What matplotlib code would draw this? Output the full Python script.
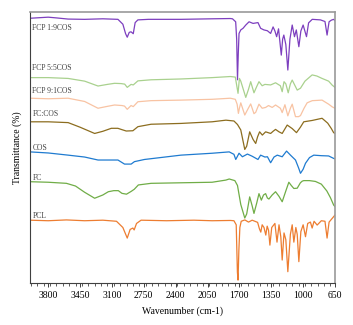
import numpy as np
import matplotlib.pyplot as plt
from matplotlib.ticker import MultipleLocator

plt.rcParams['font.family'] = ['Liberation Serif', 'DejaVu Serif']

# FTIR spectra (wavenumber in cm-1, transmittance as stacked in the figure)
pcl_wn = [4000, 3800, 3600, 3400, 3200, 3050, 2980, 2932, 2900, 2870, 2856, 2830, 2780, 2500, 2200, 2000,
          1800, 1760, 1735, 1722, 1715, 1706, 1695, 1680, 1640, 1600, 1560, 1500, 1480, 1465, 1450, 1430,
          1410, 1395, 1380, 1365, 1345, 1310, 1287, 1265, 1245, 1230, 1210, 1190, 1168, 1140, 1120, 1102,
          1080, 1065, 1047, 1025, 1000, 974, 950, 920, 901, 880, 846, 800, 760, 737, 715, 690, 665, 650]
pcl_t = [23.2, 23.0, 23.3, 23.0, 23.2, 22.8, 20.5, 16.6, 19.8, 20.3, 19.6, 22.0, 23.2, 23.0, 23.2, 23.0,
         23.1, 23.0, 21.5, 4.0, 1.1, 12.0, 20.5, 22.8, 23.3, 22.5, 23.2, 22.4, 20.0, 18.8, 21.5, 20.5,
         17.7, 21.0, 19.5, 14.0, 20.5, 22.0, 15.1, 21.5, 17.0, 8.5, 18.5, 16.0, 4.2, 18.0, 21.5, 15.1,
         20.5, 18.0, 7.9, 19.0, 21.5, 17.1, 22.0, 22.5, 20.3, 22.8, 21.4, 23.0, 22.8, 16.6, 22.5, 23.5, 24.5, 25.1]

fc_wn = [4000, 3800, 3600, 3500, 3400, 3290, 3200, 3140, 3080, 3030, 2990, 2940, 2890, 2855, 2810, 2670,
         2340, 2000, 1848, 1812, 1750, 1721, 1685, 1641, 1620, 1587, 1560, 1540, 1510, 1485, 1459, 1435,
         1412, 1393, 1376, 1340, 1303, 1265, 1230, 1190, 1157, 1130, 1102, 1065, 1030, 1010, 993, 930,
         865, 800, 740, 700, 665, 650]
fc_t = [37.4, 37.2, 36.8, 35.8, 33.5, 31.3, 32.5, 33.7, 34.1, 34.1, 33.1, 32.8, 33.8, 34.6, 36.2, 36.8,
        37.0, 37.2, 38.0, 38.4, 37.8, 36.0, 29.0, 24.0, 25.5, 31.8, 28.5, 25.7, 29.5, 33.0, 30.6, 32.5,
        33.0, 31.4, 31.0, 32.5, 33.7, 32.0, 30.0, 34.0, 37.2, 36.0, 34.9, 35.0, 37.0, 37.6, 37.8, 37.8,
        37.5, 36.5, 34.0, 31.5, 28.8, 28.2]

cos_wn = [4000, 3800, 3581, 3400, 3253, 3034, 2962, 2889, 2853, 2743, 2342, 2000, 1812, 1760, 1740, 1704,
          1667, 1612, 1560, 1496, 1467, 1420, 1392, 1357, 1320, 1284, 1230, 1182, 1139, 1084, 1050, 1029,
          1000, 974, 930, 883, 800, 720, 665, 650]
cos_t = [48.4, 48.0, 47.2, 46.5, 45.4, 45.4, 43.9, 43.9, 44.8, 45.6, 47.2, 47.9, 48.4, 47.5, 45.6, 47.9,
         46.6, 47.6, 46.8, 45.6, 47.2, 46.5, 46.6, 44.4, 46.5, 47.2, 46.6, 48.7, 47.2, 45.4, 42.5, 40.5,
         42.0, 44.2, 46.3, 47.2, 47.0, 46.9, 46.0, 45.8]

fccos_wn = [4000, 3800, 3581, 3450, 3290, 3200, 3107, 3035, 2990, 2943, 2870, 2815, 2670, 2342, 2000, 1848,
            1760, 1721, 1685, 1641, 1620, 1587, 1550, 1521, 1500, 1478, 1448, 1412, 1357, 1330, 1303, 1265,
            1230, 1175, 1120, 1073, 1030, 993, 900, 792, 730, 690, 665, 650]
fccos_t = [59.5, 59.5, 59.2, 57.5, 55.2, 56.0, 57.1, 57.1, 56.6, 56.1, 56.2, 57.7, 58.6, 58.9, 59.5, 60.1,
           59.8, 58.5, 56.5, 49.3, 50.5, 55.8, 53.0, 51.5, 54.0, 55.8, 54.6, 55.8, 55.2, 56.0, 56.7, 55.8,
           55.2, 58.3, 57.0, 55.5, 57.5, 59.5, 60.0, 60.8, 59.0, 57.0, 55.5, 55.2]

fcp91_wn = [4000, 3800, 3581, 3400, 3253, 3150, 3071, 2990, 2962, 2932, 2890, 2866, 2815, 2670, 2342, 2000,
            1800, 1745, 1725, 1711, 1700, 1685, 1641, 1610, 1576, 1540, 1521, 1485, 1450, 1412, 1380, 1340,
            1303, 1250, 1230, 1200, 1168, 1140, 1120, 1084, 1050, 1029, 990, 956, 900, 792, 720, 680, 650]
fcp91_t = [68.2, 68.0, 68.2, 67.0, 64.5, 65.2, 65.7, 65.5, 65.3, 64.1, 65.5, 65.1, 66.9, 67.3, 67.5, 67.8,
           68.2, 67.8, 66.0, 62.6, 64.5, 66.5, 62.0, 64.0, 66.1, 62.5, 63.0, 66.0, 64.5, 64.8, 65.5, 64.8,
           65.7, 64.5, 62.9, 65.8, 61.7, 64.5, 66.0, 61.4, 61.4, 61.8, 64.5, 66.5, 67.3, 67.5, 66.0, 65.0, 64.5]

fcp55_wn = [4000, 3800, 3581, 3400, 3253, 3150, 3071, 3000, 2960, 2932, 2890, 2866, 2815, 2670, 2342, 2000,
            1800, 1745, 1715, 1700, 1685, 1630, 1600, 1576, 1540, 1510, 1485, 1450, 1420, 1357, 1303, 1250,
            1230, 1210, 1190, 1164, 1140, 1120, 1065, 1029, 980, 901, 850, 792, 720, 680, 650]
fcp55_t = [75.8, 75.8, 75.5, 74.5, 72.7, 73.3, 73.7, 73.6, 73.4, 72.2, 73.3, 73.1, 74.6, 75.0, 75.3, 75.8,
           76.2, 76.0, 70.0, 75.5, 74.5, 68.5, 71.5, 74.3, 70.2, 72.5, 74.3, 72.8, 73.3, 73.1, 73.9, 72.8,
           70.6, 74.3, 73.5, 70.2, 73.5, 74.9, 71.2, 71.9, 74.5, 76.8, 76.4, 75.5, 74.5, 73.0, 72.2]

fcp19_wn = [4000, 3900, 3800, 3700, 3581, 3400, 3200, 3034, 2980, 2950, 2932, 2910, 2890, 2866, 2845, 2815,
            2700, 2342, 2000, 1800, 1776, 1741, 1730, 1721, 1712, 1704, 1685, 1660, 1630, 1594, 1550, 1496,
            1467, 1431, 1393, 1357, 1330, 1310, 1291, 1270, 1240, 1225, 1212, 1190, 1168, 1145, 1120, 1095,
            1075, 1047, 1025, 1000, 963, 940, 900, 810, 760, 737, 715, 690, 665, 650]
fcp19_t = [97.7, 97.9, 98.1, 97.8, 97.4, 97.3, 97.5, 97.3, 95.5, 92.0, 90.7, 92.5, 92.7, 92.0, 96.1, 97.1,
           97.3, 97.3, 97.5, 97.6, 97.5, 96.4, 90.0, 75.0, 85.0, 92.1, 93.4, 94.0, 95.2, 96.4, 95.8, 96.1,
           94.0, 93.4, 93.1, 92.1, 94.5, 93.0, 90.9, 93.8, 84.1, 90.0, 91.5, 88.0, 78.6, 90.0, 95.2, 90.9,
           93.4, 87.2, 93.0, 95.2, 90.9, 96.0, 97.3, 97.1, 96.5, 91.5, 96.4, 97.0, 97.3, 96.8]

labels = ['FCP 1:9COS', 'FCP 5:5COS', 'FCP 9:1COS', 'FC:COS', 'COS', 'FC', 'PCL']
label_y = [94.1, 79.3, 70.8, 62.4, 49.8, 38.7, 24.7]
colors = ['#7d3fbf', '#a9d18e', '#f8c3a3', '#8c6d1f', '#1f7bd0', '#70ad47', '#ed7d31']
spectra = [(fcp19_wn, fcp19_t), (fcp55_wn, fcp55_t), (fcp91_wn, fcp91_t), (fccos_wn, fccos_t),
           (cos_wn, cos_t), (fc_wn, fc_t), (pcl_wn, pcl_t)]

fig = plt.figure(figsize=(3.53, 3.25), dpi=100)
ax = fig.add_axes([0.085, 0.129, 0.864, 0.834])

for (wn, t), c in zip(spectra, colors):
    ax.plot(wn, t, color=c, lw=0.9)

for lab, y in zip(labels, label_y):
    ax.text(3975, y, lab, fontsize=5.5, color='#404040', va='center', ha='left')

ax.set_xlim(4000, 650)
ax.set_ylim(0, 100)
ax.xaxis.set_major_locator(MultipleLocator(350))
ax.xaxis.set_minor_locator(MultipleLocator(70))
ax.set_xticks([3800, 3450, 3100, 2750, 2400, 2050, 1700, 1350, 1000, 650])
ax.set_yticks([])
ax.tick_params(axis='x', which='major', direction='out', length=3, width=0.7,
               labelsize=7, pad=3, colors='#404040')
ax.tick_params(axis='x', which='minor', direction='out', length=2, width=0.6, colors='#404040')
ax.tick_params(axis='x', labelcolor='black')

for s in ['left', 'bottom']:
    ax.spines[s].set_color('#404040')
    ax.spines[s].set_linewidth(0.8)
for s in ['top', 'right']:
    ax.spines[s].set_color('#9a9a9a')
    ax.spines[s].set_linewidth(1.2)

ax.set_xlabel('Wavenumber (cm-1)', fontsize=7, labelpad=4)
ax.set_ylabel('Transmittance (%)', fontsize=7, labelpad=6)

plt.savefig('out.png', dpi=100)
